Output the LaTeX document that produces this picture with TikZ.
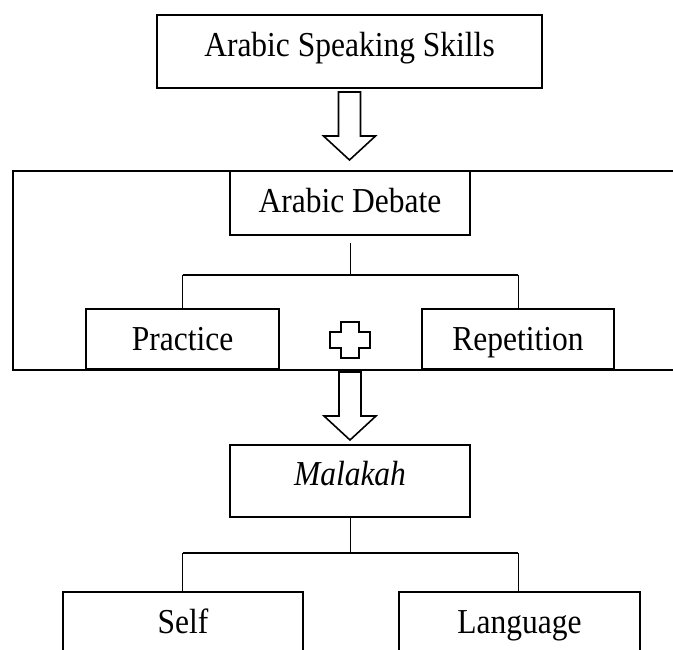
\documentclass[tikz,border=0pt]{standalone}
\usepackage{fontspec}
\setmainfont{Liberation Serif}
\usetikzlibrary{positioning}
\newcommand{\cx}[1]{\scalebox{0.9}[1]{#1}}

\begin{document}
\begin{tikzpicture}[x=1pt, y=1pt,
    box/.style={draw, line width=2pt, inner sep=0pt, text depth=0pt, font=\fontsize{35}{40}\selectfont},
    stem/.style={line width=0.9pt},
    bar/.style={line width=2.6pt},
    blockarrow/.pic={\draw[line width=1.6pt, fill=white] (-11,0) -- (-11,-44) -- (-26,-44) -- (0,-68) -- (26,-44) -- (11,-44) -- (11,0) -- cycle;}]
    \clip (0,0) rectangle (673,-650);

    \node[box, minimum width=385, minimum height=73, text height=11] (skills) at (349.5,-51.5) {\cx{Arabic Speaking Skills}};
    \node[box, minimum width=240, minimum height=64, text height=20] (debate) at (350,-203) {\cx{Arabic Debate}};
    \node[box, minimum width=193, minimum height=60, text height=23] (practice) at (182.5,-339) {\cx{Practice}};
    \node[box, minimum width=192, minimum height=60, text height=23] (repetition) at (518,-339) {\cx{Repetition}};
    \node[box, minimum width=240, minimum height=72, text height=8] (malakah) at (350,-481) {\cx{\itshape Malakah}};
    \node[box, minimum width=240, minimum height=62, text height=21] (self) at (183,-622.5) {\cx{Self}};
    \node[box, minimum width=241, minimum height=62, text height=21] (language) at (519.5,-622.5) {\cx{Language}};

    \draw[line width=2pt] (680,-171) -- (13,-171) -- (13,-370) -- (680,-370);
    \coordinate (framebottom) at (350,-372);

    \pic at ([yshift=-3]skills.south) {blockarrow};
    \pic at (framebottom) {blockarrow};

    \draw[line width=1.6pt, fill=white] (341,-332) -- (341,-322) -- (359,-322) -- (359,-332) -- (370,-332) -- (370,-348)
        -- (359,-348) -- (359,-358) -- (341,-358) -- (341,-348) -- (330,-348) -- (330,-332) -- cycle;

    \coordinate (split1) at (350,-275);
    \draw[stem, shorten <=7pt] (debate.south) -- (split1);
    \draw[bar] (practice.north |- split1) -- (repetition.north |- split1);
    \draw[stem] (practice.north |- split1) -- (practice.north);
    \draw[stem] (repetition.north |- split1) -- (repetition.north);

    \coordinate (split2) at (350,-553);
    \draw[stem] (malakah.south) -- (split2);
    \draw[bar] (practice.north |- split2) -- (repetition.north |- split2);
    \draw[stem] (practice.north |- split2) -- (practice.north |- self.north);
    \draw[stem] (repetition.north |- split2) -- (repetition.north |- language.north);
\end{tikzpicture}
\end{document}
